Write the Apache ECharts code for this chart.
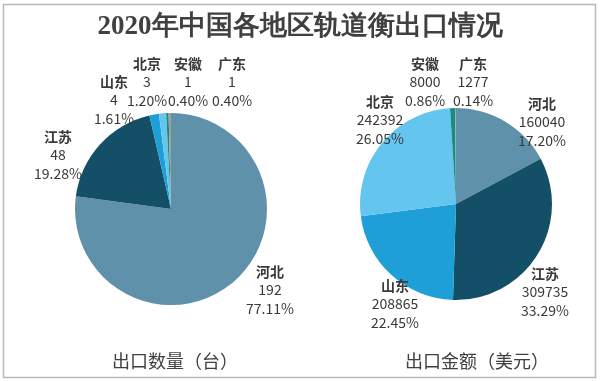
<!DOCTYPE html>
<html>
<head>
<meta charset="utf-8">
<script src="https://cdn.jsdelivr.net/npm/echarts@6/dist/echarts.min.js"></script>
<style>html,body{margin:0;padding:0;background:#fff}#c{width:600px;height:381px}</style>
</head>
<body>
<div id="c"></div>
<script>
const titleText = '2020年中国各地区轨道衡出口情况';
const regions = ['河北', '江苏', '山东', '北京', '安徽', '广东'];
const quantity = [192, 48, 4, 3, 1, 1];
const amount = [160040, 309735, 208865, 242392, 8000, 1277];
const quantityPct = ['77.11', '19.28', '1.61', '1.20', '0.40', '0.40'];
const amountPct = ['17.20', '33.29', '22.45', '26.05', '0.86', '0.14'];
const subtitles = ['出口数量（台）', '出口金额（美元）'];

const colors = ['#5f91aa', '#144f68', '#1f9fd8', '#64c6ef', '#1a8a85', '#a59f8e'];
// label anchor positions (layout only)
const labelAnchors = [
  [[270, 290], [58, 155], [114, 100], [147, 82], [188, 82], [232, 82]],
  [[542, 122], [545, 292], [395, 304], [380, 120], [425, 82], [473, 82]]
];

const chart = echarts.init(document.getElementById('c'));
const font = "'Noto Sans CJK SC', 'Noto Sans', sans-serif";

function makeSeries(idx, values, pcts, center) {
  return {
    type: 'pie',
    center: center,
    radius: 96,
    startAngle: 90,
    clockwise: true,
    animation: false,
    silent: true,
    avoidLabelOverlap: false,
    itemStyle: { borderWidth: 0 },
    data: regions.map((r, i) => ({ name: r, value: values[i], pct: pcts[i], itemStyle: { color: colors[i] } })),
    label: {
      show: true,
      position: 'outside',
      overflow: 'none',
      width: 80,
      formatter: p => '{n|' + p.name + '}\n{v|' + p.value + '}\n{v|' + p.data.pct + '%}',
      rich: {
        n: { fontFamily: font, fontSize: 14, fontWeight: 'bold', color: '#3a3a3a', lineHeight: 18.5, align: 'center' },
        v: { fontFamily: font, fontSize: 14, color: '#3a3a3a', lineHeight: 18.5, align: 'center' }
      }
    },
    labelLine: { show: false },
    labelLayout: p => {
      const a = labelAnchors[idx][p.dataIndex];
      return { x: a[0], y: a[1], align: 'center', verticalAlign: 'middle' };
    }
  };
}

chart.setOption({
  backgroundColor: '#fff',
  title: {
    text: titleText,
    left: 'center',
    top: 9,
    textStyle: { fontFamily: "'Liberation Serif', 'DejaVu Serif', serif", fontSize: 27, fontWeight: 'bold', color: '#404040' }
  },
  graphic: [
    { type: 'rect', shape: { x: 3.5, y: 4.5, width: 592, height: 373 }, style: { fill: 'none', stroke: '#b8b8b8', lineWidth: 1.5 }, z: -1 },
    { type: 'text', x: 175, y: 361, style: { text: subtitles[0], font: '18px ' + font, fill: '#404040', textAlign: 'center', textVerticalAlign: 'middle' } },
    { type: 'text', x: 477, y: 361, style: { text: subtitles[1], font: '18px ' + font, fill: '#404040', textAlign: 'center', textVerticalAlign: 'middle' } }
  ],
  series: [
    makeSeries(0, quantity, quantityPct, [171, 209]),
    makeSeries(1, amount, amountPct, [456, 204])
  ]
});
</script>
</body>
</html>
